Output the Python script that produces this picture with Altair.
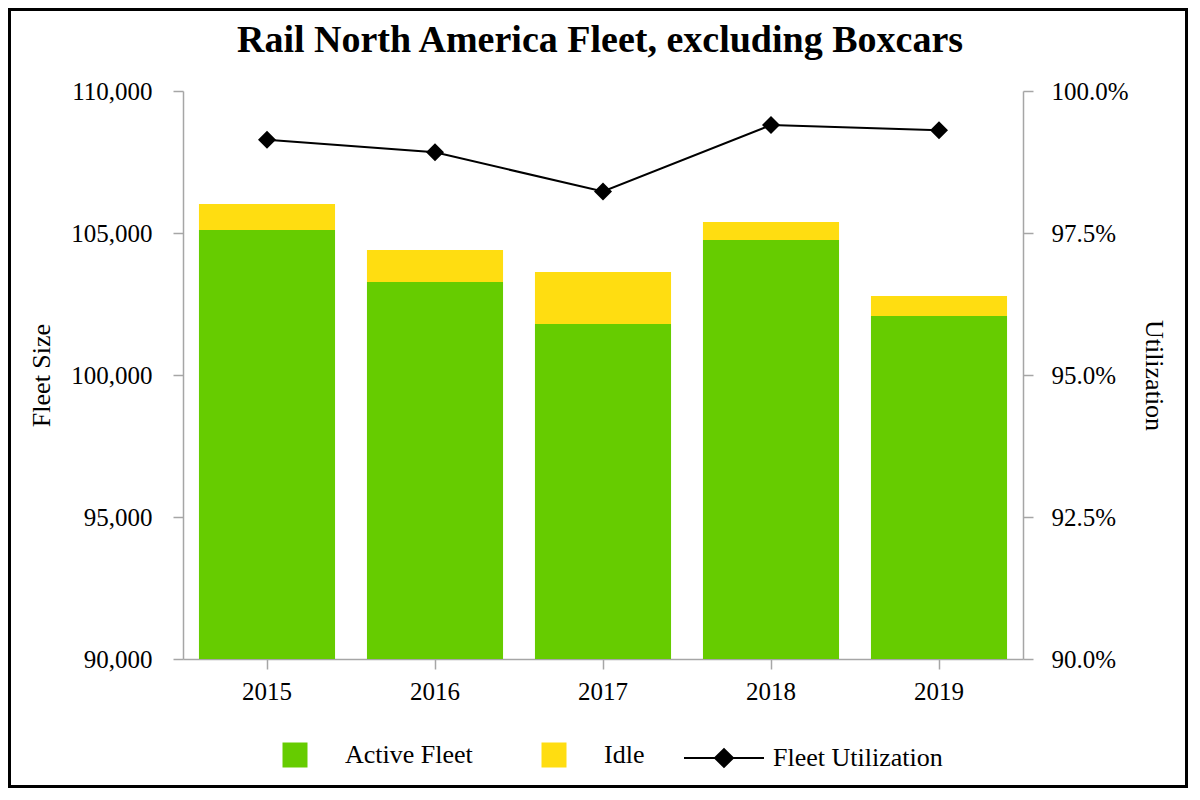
import altair as alt
import pandas as pd

years = ["2015", "2016", "2017", "2018", "2019"]
active_fleet = [105106, 103275, 101796, 104754, 102077]
idle_fleet = [915, 1126, 1831, 633, 705]
utilization = [0.9914, 0.9892, 0.9823, 0.9940, 0.9931]
series_names = ["Active Fleet", "Idle"]
series_colors = ["#66CC00", "#FFDD11"]
line_name = "Fleet Utilization"
left_ticks = [90000, 95000, 100000, 105000, 110000]
right_ticks = [0.9, 0.925, 0.95, 0.975, 1.0]
chart_title = "Rail North America Fleet, excluding Boxcars"

FONT = "Liberation Serif"

rows = []
for i, yr in enumerate(years):
    rows.append({"year": yr, "series": series_names[0], "value": active_fleet[i], "ord": 0})
    rows.append({"year": yr, "series": series_names[1], "value": idle_fleet[i], "ord": 1})
bars_df = pd.DataFrame(rows)
util_df = pd.DataFrame({"year": years, "util": utilization, "label": [line_name] * len(years)})
title_df = pd.DataFrame({"t": [chart_title]})

x_enc = alt.X(
    "year:N",
    title=None,
    scale=alt.Scale(paddingInner=0.19, paddingOuter=0.095),
    axis=alt.Axis(labelAngle=0, labelPadding=10, tickSize=10),
)

bars = alt.Chart(bars_df).mark_bar(clip=True).encode(
    x=x_enc,
    y=alt.Y(
        "value:Q",
        stack="zero",
        title="Fleet Size",
        scale=alt.Scale(domain=[90000, 110000], zero=False, nice=False),
        axis=alt.Axis(values=left_ticks, format=",d", orient="left", tickSize=10,
                      labelPadding=21, titlePadding=16),
    ),
    color=alt.Color(
        "series:N",
        scale=alt.Scale(domain=series_names, range=series_colors),
        legend=alt.Legend(orient="none", legendX=99, legendY=651, direction="horizontal",
                          title=None, symbolType="square", symbolSize=625, labelOffset=37,
                          columnPadding=68, padding=0, symbolStrokeWidth=0, labelLimit=400),
    ),
    order=alt.Order("ord:Q"),
)

line_symbol = "M-1,0L1,0M-0.225,0L0,-0.22L0.225,0L0,0.22Z"

line = alt.Chart(util_df).mark_line(strokeWidth=2).encode(
    x=x_enc,
    y=alt.Y(
        "util:Q",
        title="Utilization",
        scale=alt.Scale(domain=[0.9, 1.0], zero=False, nice=False),
        axis=alt.Axis(orient="right", values=right_ticks, format=".1%", tickSize=10,
                      labelPadding=18, titlePadding=12),
    ),
    stroke=alt.Stroke(
        "label:N",
        scale=alt.Scale(domain=[line_name], range=["black"]),
        legend=alt.Legend(orient="none", legendX=500, legendY=626, title=None,
                          symbolType=line_symbol, symbolSize=6400, symbolStrokeWidth=2,
                          symbolFillColor="black", symbolStrokeColor="black",
                          labelOffset=8, padding=0, labelLimit=400),
    ),
)

points = alt.Chart(util_df).mark_point(shape="diamond", filled=True, size=324,
                                       color="black", opacity=1).encode(
    x=x_enc,
    y=alt.Y("util:Q"),
)

title_mark = alt.Chart(title_df).mark_text(
    font=FONT, fontSize=38, fontWeight="bold", align="center", baseline="alphabetic",
    color="black",
).encode(text="t:N", x=alt.value(417), y=alt.value(-39))

frame = alt.Chart(title_df).mark_rect(fill="transparent", stroke="black", strokeWidth=3).encode(
    x=alt.value(-173.5), x2=alt.value(1003.5), y=alt.value(-81.5), y2=alt.value(695.5)
)

chart = alt.layer(bars, alt.layer(line, points), title_mark, frame).resolve_scale(
    y="independent"
).properties(
    width=840,
    height=568,
    padding=0,
).configure_axis(
    labelFont=FONT, titleFont=FONT, labelFontSize=25, titleFontSize=26,
    titleFontWeight="normal", labelColor="black", titleColor="black",
    domainColor="#A6A6A6", tickColor="#A6A6A6", domainWidth=1.5, tickWidth=1.5, grid=False,
).configure_legend(
    labelFont=FONT, labelFontSize=26, labelColor="black",
).configure_view(stroke="transparent")

chart.save("out.html", embed_options={"renderer": "svg", "actions": False})
